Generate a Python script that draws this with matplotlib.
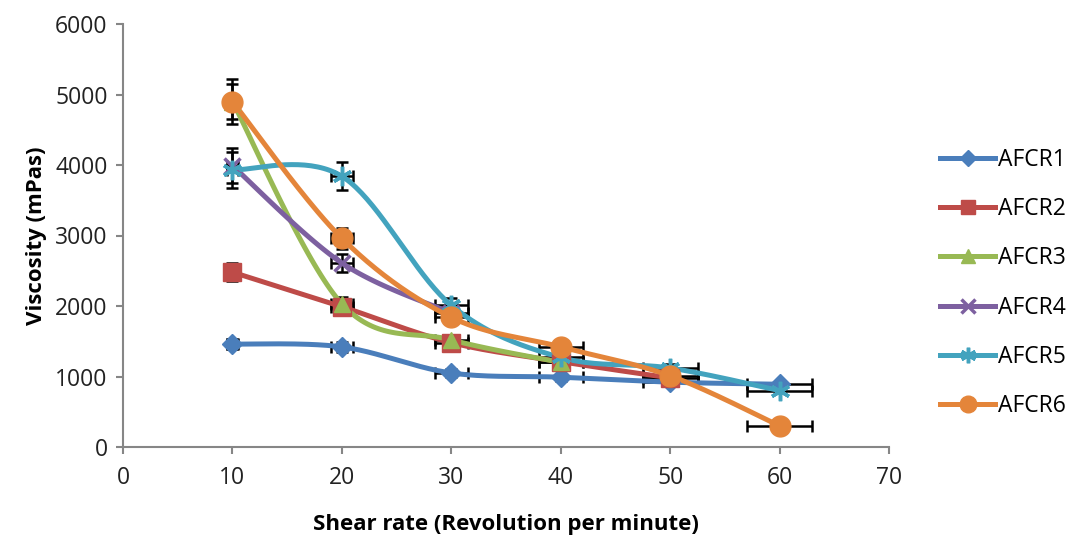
import matplotlib
matplotlib.use("Agg")
import matplotlib.pyplot as plt
import numpy as np

# data
shear = [10, 20, 30, 40, 50, 60]
x_err = [0.5, 1, 1.5, 2, 2.5, 3]

labels = ["AFCR1", "AFCR2", "AFCR3", "AFCR4", "AFCR5", "AFCR6"]
afcr1 = [1460, 1420, 1050, 990, 920, 890]
afcr2 = [2480, 1990, 1480, 1210, 980]
afcr3 = [4900, 2030, 1520, 1200]
afcr4 = [3990, 2610, 1900]
afcr5 = [3930, 3840, 2010, 1270, 1120, 800]
afcr6 = [4900, 2960, 1840, 1420, 1010, 300]

err1 = [75, 70, 55, 50, 45, 45]
err2 = [125, 100, 75, 60, 50]
err3 = [245, 100, 75, 60]
err4 = [250, 130, 95]
err5 = [250, 200, 100, 65, 55, 40]
err6 = [320, 150, 90, 70, 50, 15]

series = [afcr1, afcr2, afcr3, afcr4, afcr5, afcr6]
errs = [err1, err2, err3, err4, err5, err6]
colors = ["#4A7EBB", "#BE4B48", "#98B954", "#7D60A0", "#43A3BE", "#E4853A"]
markers = ["D", "s", "^", "x", (6, 2, 0), "o"]
msizes = [10, 13, 12, 12, 14, 15]

plt.rcParams['font.family'] = ['Open Sans', 'DejaVu Sans']

fig = plt.figure(figsize=(10.73, 5.35), dpi=100)
ax = fig.add_axes([123/1073, 88/535, 766/1073, 423/535])
ax.set_xlim(0, 70)
ax.set_ylim(0, 6000)

# pixel-ish scaling so the smoothing behaves like Excel's screen-space spline
sx = 766/70
sy = 423/6000


def smooth(xv, yv, n=40):
    p = np.column_stack([np.asarray(xv, float)*sx, np.asarray(yv, float)*sy])
    if len(p) < 3:
        return p[:, 0]/sx, p[:, 1]/sy
    out = []
    for i in range(len(p) - 1):
        p0 = p[i-1] if i > 0 else p[i]
        p1 = p[i]
        p2 = p[i+1]
        p3 = p[i+2] if i + 2 < len(p) else p[i+1]
        c1 = p1 + (p2 - p0)/6
        c2 = p2 - (p3 - p1)/6
        t = np.linspace(0, 1, n)[:, None]
        b = ((1-t)**3)*p1 + 3*((1-t)**2)*t*c1 + 3*(1-t)*t**2*c2 + t**3*p2
        out.append(b if i == 0 else b[1:])
    out = np.vstack(out)
    return out[:, 0]/sx, out[:, 1]/sy


for vals, e in zip(series, errs):
    xs = shear[:len(vals)]
    ax.errorbar(xs, vals, yerr=e, xerr=x_err[:len(vals)], fmt="none",
                ecolor="black", elinewidth=1.8, capsize=4, capthick=1.8, zorder=2)

for vals, lab, c, m, ms in zip(series, labels, colors, markers, msizes):
    xs = shear[:len(vals)]
    cx, cy = smooth(xs, vals)
    mw = 2.5 if m in ("x", (6, 2, 0)) else 1
    ax.plot(cx, cy, color=c, lw=3.6, zorder=3, solid_capstyle="round")
    ax.plot(xs, vals, ls="none", marker=m, ms=ms, color=c, mec=c, mew=mw, zorder=4)
    ax.plot([], [], color=c, lw=3.6, marker=m, ms=ms*0.8, mec=c, mew=mw, label=lab)

ax.set_xticks(range(0, 71, 10))
ax.set_yticks(range(0, 6001, 1000))
for s in ["top", "right"]:
    ax.spines[s].set_visible(False)
for s in ["left", "bottom"]:
    ax.spines[s].set_color("#868686")
    ax.spines[s].set_linewidth(1.5)
ax.tick_params(direction="out", length=5, width=1.5, color="#868686",
               labelsize=16.5, labelcolor="#222222", pad=6)
ax.tick_params(axis="x", pad=9)

ax.set_xlabel("Shear rate (Revolution per minute)", fontsize=16,
              fontweight="bold", labelpad=17)
ax.set_ylabel("Viscosity (mPas)", fontsize=16, fontweight="bold", labelpad=6)

handles, labs = ax.get_legend_handles_labels()
fig.legend(handles, labs, loc="upper left", bbox_to_anchor=(940/1073, 1 - 148/535),
           frameon=False, fontsize=16.5, borderpad=0, borderaxespad=0,
           handlelength=2.4, handletextpad=0.12, labelspacing=1.1)

fig.savefig("out.png", dpi=100)
